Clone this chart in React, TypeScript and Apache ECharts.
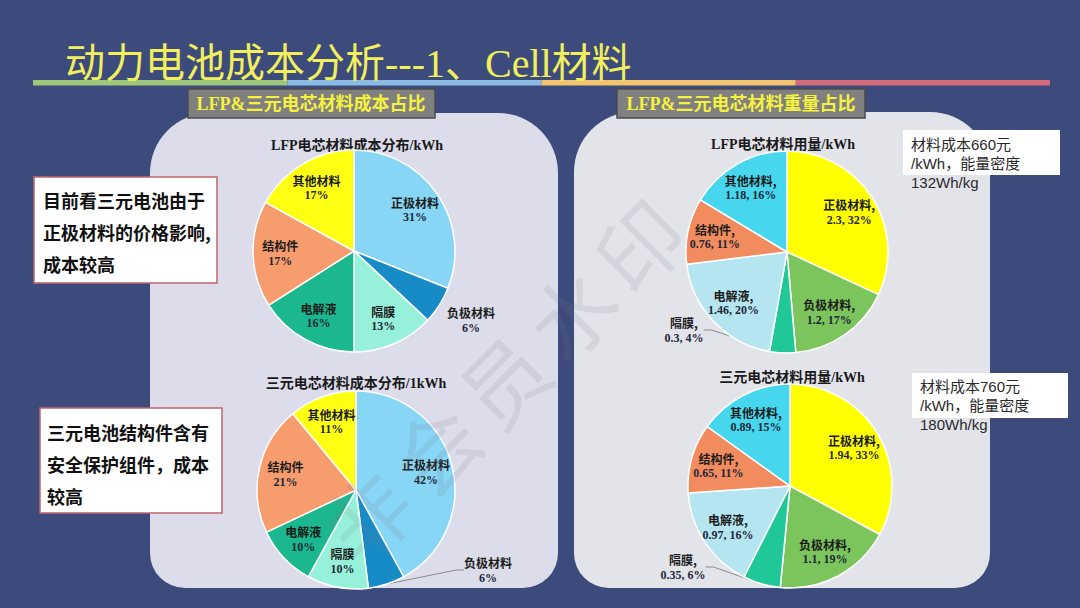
import React, { useEffect, useRef } from 'react';
import * as echarts from 'echarts';

const materialNames = ['正极材料', '负极材料', '隔膜', '电解液', '结构件', '其他材料'];
const lfpCostPct = [31, 6, 13, 16, 17, 17];
const nmcCostPct = [42, 6, 10, 10, 21, 11];
const lfpUsageKWh = [2.3, 1.2, 0.3, 1.46, 0.76, 1.18];
const nmcUsageKWh = [1.94, 1.1, 0.35, 0.97, 0.65, 0.89];
const costColors = ['#88d6f6', '#178bc6', '#97f1da', '#1bb78f', '#f79d6d', '#ffff14'];
const usageColors = ['#ffff00', '#7cc45c', '#20c898', '#b5e5f1', '#f28b5d', '#46d7ee'];
const pieTitles = ['LFP电芯材料成本分布/kWh', '三元电芯材料成本分布/1kWh', 'LFP电芯材料用量/kWh', '三元电芯材料用量/kWh'];
const headerTitle = '动力电池成本分析---1、Cell材料';
const sectionLabels = ['LFP&三元电芯材料成本占比', 'LFP&三元电芯材料重量占比'];
const noteLeft1 = ['目前看三元电池由于', '正极材料的价格影响,', '成本较高'];
const noteLeft2 = ['三元电池结构件含有', '安全保护组件，成本', '较高'];
const noteRight1 = ['材料成本660元', '/kWh，能量密度', '132Wh/kg'];
const noteRight2 = ['材料成本760元', '/kWh，能量密度', '180Wh/kg'];
const watermarkChars = ['非', '会', '员', '水', '印'];

const MIX = '"Liberation Serif", "Noto Sans CJK SC", serif';
const SANS = '"Liberation Sans", "Noto Sans CJK SC", sans-serif';

const labelRich = {
  n: { fontFamily: '"Noto Sans CJK SC", sans-serif', fontWeight: 'bold', fontSize: 12, color: '#1c1c1c', lineHeight: 15 },
  v: { fontFamily: '"Liberation Serif", serif', fontWeight: 'bold', fontSize: 12, color: '#1f2838', lineHeight: 15 },
};

function makePie(values: number[], colors: string[], center: number[], r: number, fmt: string, outIdx: number, outPos: number[], showLine: boolean) {
  const items = materialNames.map((n, i) => ({ name: n, value: values[i], itemStyle: { color: colors[i] } }));
  const base: any = {
    type: 'pie', center, radius: r, startAngle: 90, clockwise: true, silent: true,
    percentPrecision: 0, avoidLabelOverlap: false,
    label: { show: false }, labelLine: { show: false },
    itemStyle: { borderColor: '#ffffff', borderWidth: 1.5 },
    data: items,
  };
  const lbl: any = {
    type: 'pie', center, radius: [r * 0.4, r], startAngle: 90, clockwise: true, silent: true,
    percentPrecision: 0, avoidLabelOverlap: false,
    itemStyle: { color: 'rgba(0,0,0,0)', borderWidth: 0 },
    label: { show: true, position: 'inside', formatter: fmt, rich: labelRich, color: '#1c1c1c' },
    labelLine: { show: false },
    data: items.map((it, i) => i === outIdx
      ? { name: it.name, value: it.value, itemStyle: { color: 'rgba(0,0,0,0)' }, label: { position: 'outside' }, labelLine: { show: showLine, length: 6, length2: 8, lineStyle: { color: '#8c8c8c', width: 1 } } }
      : { name: it.name, value: it.value, itemStyle: { color: 'rgba(0,0,0,0)' } }),
    labelLayout: (p: any) => (p.dataIndex === outIdx ? { x: outPos[0], y: outPos[1], align: 'center', verticalAlign: 'middle' } : {}),
  };
  return [base, lbl];
}

function txt(text: string, x: number, y: number, o: any = {}, extra: any = {}) {
  return {
    type: 'text', x, y, silent: true, ...extra,
    style: { text, fill: '#111', align: 'left', textAlign: 'left', verticalAlign: 'middle', textVerticalAlign: 'middle', ...o },
  };
}

export default function App() {
  const ref = useRef<HTMLDivElement>(null);
  useEffect(() => {
    if (!ref.current) return;
    const chart = echarts.init(ref.current, undefined, { renderer: 'svg' });
    const costFmt = '{n|{b}}\n{v|{c}%}';
    const useFmt = '{n|{b},}\n{v|{c}, {d}%}';
    const series = [
      ...makePie(lfpCostPct, costColors, [354, 251], 101, costFmt, 1, [471, 320], false),
      ...makePie(nmcCostPct, costColors, [356, 490], 99, costFmt, 1, [488, 570], true),
      ...makePie(lfpUsageKWh, usageColors, [787, 252], 101, useFmt, 2, [684, 330], true),
      ...makePie(nmcUsageKWh, usageColors, [790, 486], 102, useFmt, 2, [683, 567], true),
    ];
    const lineSegs = ['#9dc77b', '#8bbbe3', '#f2c470', '#d4697a'];
    const segW = (1050 - 33) / 4;
    const graphic: any[] = [
      // panels
      { type: 'rect', silent: true, shape: { x: 150, y: 113, width: 408, height: 475, r: [60, 60, 35, 35] }, style: { fill: '#dcdcea' } },
      { type: 'rect', silent: true, shape: { x: 574, y: 112, width: 416, height: 476, r: [60, 60, 35, 35] }, style: { fill: '#e3e3ea' } },
      // title underline
      ...lineSegs.map((c, i) => ({ type: 'rect', silent: true, shape: { x: 33 + i * segW, y: 80, width: segW, height: 5.5 }, style: { fill: c } })),
      txt(headerTitle, 65, 63, { fill: '#f3ef5c', fontSize: 40, fontFamily: MIX, fontWeight: 'normal' }),
      // section labels
      { type: 'rect', silent: true, shape: { x: 188, y: 89, width: 247, height: 29 }, style: { fill: '#808080', stroke: '#4b4b4b', lineWidth: 1.5 } },
      txt(sectionLabels[0], 311, 104, { fill: '#f5f23e', fontSize: 18, fontWeight: 'bold', fontFamily: MIX, align: 'center', textAlign: 'center' }),
      { type: 'rect', silent: true, shape: { x: 617, y: 89, width: 248, height: 29 }, style: { fill: '#808080', stroke: '#4b4b4b', lineWidth: 1.5 } },
      txt(sectionLabels[1], 741, 104, { fill: '#f5f23e', fontSize: 18, fontWeight: 'bold', fontFamily: MIX, align: 'center', textAlign: 'center' }),
      // pie titles
      txt(pieTitles[0], 357, 145, { fontSize: 14, fontWeight: 'bold', fontFamily: MIX, align: 'center', textAlign: 'center', fill: '#1a1a1a' }),
      txt(pieTitles[1], 356, 383, { fontSize: 14, fontWeight: 'bold', fontFamily: MIX, align: 'center', textAlign: 'center', fill: '#1a1a1a' }),
      txt(pieTitles[2], 783, 144, { fontSize: 14, fontWeight: 'bold', fontFamily: MIX, align: 'center', textAlign: 'center', fill: '#1a1a1a' }),
      txt(pieTitles[3], 792, 377, { fontSize: 14, fontWeight: 'bold', fontFamily: MIX, align: 'center', textAlign: 'center', fill: '#1a1a1a' }),
      // left notes
      { type: 'rect', silent: true, shape: { x: 34, y: 177, width: 183, height: 106 }, style: { fill: '#ffffff', stroke: '#c0646e', lineWidth: 1.5 } },
      txt(noteLeft1.join('\n'), 43, 184, { fontSize: 18, fontWeight: 'bold', lineHeight: 32, verticalAlign: 'top', textVerticalAlign: 'top', fontFamily: '"Noto Sans CJK SC", sans-serif', fill: '#111' }),
      { type: 'rect', silent: true, shape: { x: 40, y: 408, width: 182, height: 105 }, style: { fill: '#ffffff', stroke: '#c0646e', lineWidth: 1.5 } },
      txt(noteLeft2.join('\n'), 47, 416, { fontSize: 18, fontWeight: 'bold', lineHeight: 32, verticalAlign: 'top', textVerticalAlign: 'top', fontFamily: '"Noto Sans CJK SC", sans-serif', fill: '#111' }),
      // right notes
      { type: 'rect', silent: true, shape: { x: 903, y: 130, width: 157, height: 45 }, style: { fill: '#ffffff' } },
      txt(noteRight1.join('\n'), 911, 135, { fontSize: 15, lineHeight: 19, verticalAlign: 'top', textVerticalAlign: 'top', fontFamily: SANS, fill: '#2a2a2a' }),
      { type: 'rect', silent: true, shape: { x: 912, y: 373, width: 156, height: 45 }, style: { fill: '#ffffff' } },
      txt(noteRight2.join('\n'), 920, 377, { fontSize: 15, lineHeight: 19, verticalAlign: 'top', textVerticalAlign: 'top', fontFamily: SANS, fill: '#2a2a2a' }),
      // watermark, one rotated character at a time along the diagonal
      ...watermarkChars.map((ch, i) => txt(ch, 365 + i * 68, 515 - i * 68, { fontSize: 85, fill: 'rgba(120,120,135,0.14)', align: 'center', textAlign: 'center', fontFamily: '"Noto Sans CJK SC", sans-serif' }, { rotation: Math.PI / 4, z: 100 })),
    ];
    chart.setOption({
      animation: false,
      backgroundColor: '#3c4b7b',
      graphic,
      series,
    });
    return () => chart.dispose();
  }, []);
  return <div ref={ref} style={{ position: 'fixed', left: 0, top: 0, width: 1080, height: 608 }} />;
}
